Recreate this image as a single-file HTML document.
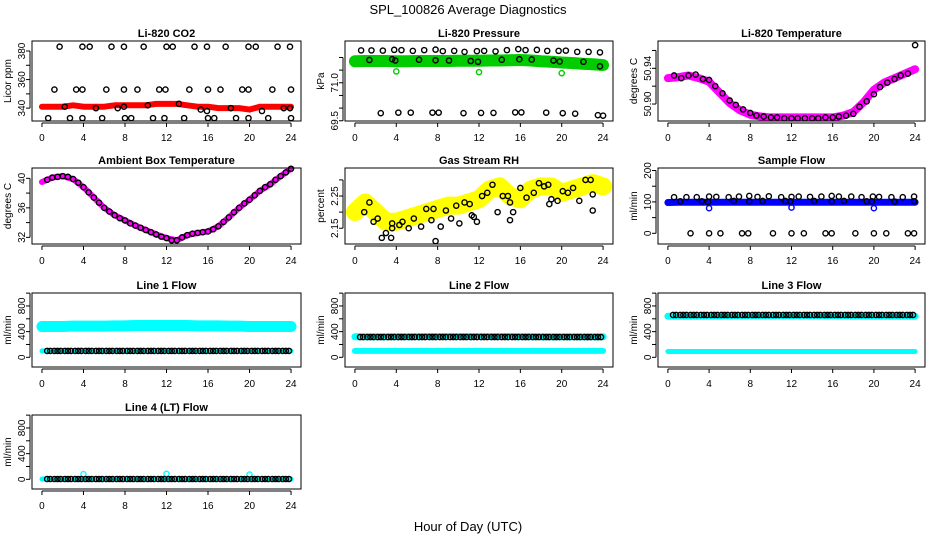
<!DOCTYPE html>
<html><head><meta charset="utf-8"><style>
html,body{margin:0;padding:0;background:#fff;}
svg{display:block;font-family:"Liberation Sans","DejaVu Sans",sans-serif;}
</style></head><body>
<svg id="chart" width="936" height="540" viewBox="0 0 936 540" xmlns="http://www.w3.org/2000/svg">
<rect width="936" height="540" fill="#fff"/>
<text x="468" y="14" text-anchor="middle" font-size="13">SPL_100826  Average Diagnostics</text>
<text x="468" y="531" text-anchor="middle" font-size="13">Hour of Day (UTC)</text>
</svg>
<script>
// ---------- data ----------
const xTicks = [0,4,8,12,16,20,24];
const bandHours = [0,1,2,3,4,5,6,7,8,9,10,11,12,13,14,15,16,17,18,19,20,21,22,23,24];
const halfHours = [0.5,1,1.5,2,2.5,3,3.5,4,4.5,5,5.5,6,6.5,7,7.5,8,8.5,9,9.5,10,10.5,11,11.5,12,12.5,13,13.5,14,14.5,15,15.5,16,16.5,17,17.5,18,18.5,19,19.5,20,20.5,21,21.5,22,22.5,23,23.5,24];
const lineHours = [0.5,0.8,1.2,1.5,1.8,2.2,2.5,2.8,3.2,3.5,3.8,4.2,4.5,4.8,5.2,5.5,5.8,6.2,6.5,6.8,7.2,7.5,7.8,8.2,8.5,8.8,9.2,9.5,9.8,10.2,10.5,10.8,11.2,11.5,11.8,12.2,12.5,12.8,13.2,13.5,13.8,14.2,14.5,14.8,15.2,15.5,15.8,16.2,16.5,16.8,17.2,17.5,17.8,18.2,18.5,18.8,19.2,19.5,19.8,20.2,20.5,20.8,21.2,21.5,21.8,22.2,22.5,22.8,23.2,23.5,23.8];

// CO2
const co2Band = [341,341,341,342,341,341,341,342,342,342,342,343,343,343,342,341,341,340,340,340,339,341,341,341,341];
const co2HighH = [1.7,3.9,4.6,6.7,7.9,9.8,12.0,12.6,14.7,15.9,17.7,19.9,20.6,22.7,23.9];
const co2HighV = [383,383,383,383,383,383,383,383,383,383,383,383,383,383,383];
const co2MidH = [1.2,3.3,3.9,6.2,7.9,9.2,11.3,11.9,14.2,16,17.2,19.3,19.9,22.2,24];
const co2MidV = [353,353,353,353,353,353,353,353,353,353,353,353,353,353,353];
const co2LowH = [2.2,5.2,7.3,7.9,10.2,13.2,15.3,15.9,18.2,21.2,23.3,23.9];
const co2LowV = [341,340,340,341,342,343,339,338,340,338,340,340];
const co2BotH = [0.6,2.7,3.9,5.8,8,8.6,10.7,11.8,13.7,16,16.6,18.7,19.9,21.8,24];
const co2BotV = [333,333,333,333,333,333,333,333,333,333,333,333,333,333,333];

// Pressure
const presBand = [71.85,71.86,71.86,71.86,71.85,71.85,71.86,71.86,71.86,71.86,71.87,71.87,71.87,71.88,71.88,71.89,71.9,71.88,71.85,71.83,71.8,71.78,71.75,71.73,71.7];
const presTopH = [0.6,1.6,2.7,3.8,4.5,5.6,6.7,7.8,8.5,9.6,10.6,11.8,12.5,13.6,14.7,15.8,16.5,17.6,18.6,19.7,20.4,21.5,22.6,23.7];
const presTopV = [72.28,72.28,72.27,72.3,72.29,72.26,72.29,72.31,72.25,72.26,72.22,72.25,72.26,72.24,72.29,72.33,72.29,72.3,72.26,72.26,72.27,72.22,72.22,72.2];
const presMidH = [1.4,3.6,3.9,6.2,7.8,9.1,11.2,11.9,14.2,15.9,17.1,19.2,19.8,22.1,23.7];
const presMidV = [71.9,71.93,71.88,71.91,71.89,71.88,71.86,71.83,71.91,71.93,71.92,71.88,71.84,71.83,71.65];
const presLowH = [2.5,4.2,5.4,7.5,8.1,10.5,12.2,13.4,15.5,16.1,18.5,20.1,21.3,23.5,24];
const presLowV = [69.8,69.82,69.82,69.82,69.82,69.8,69.81,69.81,69.83,69.83,69.82,69.8,69.78,69.72,69.7];
const presOutH = [4,12,20];
const presOutV = [71.45,71.42,71.38];

// Li-820 temperature
const ltBand = [50.929,50.930,50.932,50.929,50.925,50.913,50.901,50.893,50.888,50.886,50.885,50.885,50.885,50.885,50.885,50.885,50.885,50.887,50.891,50.902,50.916,50.924,50.929,50.934,50.939];
const ltPtH = [0.6,1.3,2,2.7,3.4,4,4.6,5.3,6,6.6,7.3,8,8.6,9.3,10,10.6,11.3,12,12.6,13.3,14,14.6,15.3,16,16.6,17.3,18,18.6,19.3,20,20.6,21.3,22,22.6,23.3,24];
const ltPtV = [50.932,50.929,50.932,50.933,50.928,50.927,50.920,50.912,50.904,50.899,50.894,50.890,50.887,50.886,50.885,50.885,50.884,50.884,50.884,50.884,50.884,50.884,50.885,50.885,50.886,50.887,50.889,50.897,50.903,50.911,50.919,50.924,50.928,50.932,50.934,50.966];

// Ambient
const ambBand = [39.5,40.1,40.3,39.9,38.8,37.4,36.0,35.0,34.3,33.6,33.0,32.4,31.9,31.6,32.3,32.6,32.8,33.5,34.7,36.0,37.1,38.3,39.2,40.3,41.3];
const ambPtV = [39.8,40.1,40.2,40.3,40.2,39.9,39.4,38.8,38.1,37.4,36.7,36.0,35.5,35.0,34.6,34.3,33.9,33.6,33.3,33.0,32.7,32.4,32.1,31.9,31.6,31.6,32.0,32.3,32.5,32.6,32.7,32.8,33.1,33.5,34.1,34.7,35.4,36.0,36.6,37.1,37.7,38.3,38.8,39.2,39.8,40.3,40.8,41.3];

// Gas stream RH
const rhBand = [2.20,2.23,2.20,2.17,2.17,2.18,2.19,2.20,2.21,2.22,2.22,2.23,2.24,2.27,2.28,2.25,2.24,2.27,2.28,2.28,2.26,2.27,2.28,2.29,2.28];
const rhPtH = [0.9,1.4,1.8,2.2,2.6,3.0,3.5,3.6,3.6,4.3,4.6,5.2,5.7,6.4,6.9,7.4,7.6,7.8,8.3,8.8,9.3,9.8,10.1,10.6,11.1,11.3,11.5,11.8,12.3,12.8,13.3,13.8,14.3,14.8,15.0,15.0,15.3,16.0,16.6,17.3,17.8,18.3,18.7,18.8,19.0,19.6,20.1,20.6,21.1,21.7,22.3,22.8,23.0,23.0];
const rhPtV = [2.20,2.23,2.17,2.18,2.12,2.135,2.12,2.15,2.165,2.16,2.17,2.15,2.18,2.155,2.21,2.175,2.21,2.11,2.155,2.205,2.18,2.22,2.165,2.23,2.225,2.19,2.185,2.17,2.25,2.26,2.285,2.20,2.25,2.25,2.23,2.175,2.20,2.275,2.245,2.26,2.29,2.28,2.285,2.225,2.24,2.235,2.265,2.26,2.275,2.235,2.30,2.30,2.255,2.205];

// Sample flow
const sfBand = [98,99,99,99,99,99,99,99,99,99,99,99,99,99,99,99,99,99,99,99,99,99,99,99,99];
const sfHighH = [0.6,1.8,2.8,4,4.7,5.9,6.9,7.9,8.7,9.8,11,12,12.7,13.8,14.9,15.9,16.6,17.8,18.8,19.9,20.5,21.7,22.8,23.9];
const sfHighV = [115,115,115,117,116,115,117,119,116,118,115,116,117,116,117,119,117,117,115,117,116,115,115,117];
const sfMidH = [1.2,3.3,3.9,6.4,7.9,9.2,11.4,11.9,14.2,15.9,17.1,19.3,19.8,22,23.9];
const sfMidV = [102,102,100,103,102,103,103,102,103,102,103,102,102,101,102];
const sfZeroH = [2.2,4,5.1,7.2,7.8,10.2,12,13.2,15.3,15.9,18.2,20,21.2,23.3,23.9];
const sfZeroV = [0,0,0,0,0,0,0,0,0,0,0,0,0,0,0];
const sfOutH = [4,12,20];
const sfOutV = [80,82,80];

// Line flows (mL/min)
const l1Band = [480,480,480,485,485,485,485,490,490,495,495,495,495,495,495,490,490,490,485,485,480,480,480,480,480];
const l1Base = [100,100,100,100,100,100,100,100,100,100,100,100,100,100,100,100,100,100,100,100,100,100,100,100,100];
const l1BlackLevel = [100];
const l2Band = [320,320,320,320,322,322,322,325,325,325,325,325,325,325,325,325,322,322,320,320,320,320,320,320,320];
const l2Base = [100,100,100,100,100,100,100,100,100,100,100,100,100,100,100,100,100,100,100,100,100,100,100,100,100];
const l2BlackLevel = [315];
const l3Band = [640,640,640,640,642,642,645,645,645,645,645,648,648,648,645,645,645,645,642,642,640,640,640,640,640];
const l3Base = [90,90,90,90,90,90,90,90,90,90,90,90,90,90,90,90,90,90,90,90,90,90,90,90,90];
const l3BlackLevel = [660];
const l4Base = [5,5,5,5,5,5,5,5,5,5,5,5,5,5,5,5,5,5,5,5,5,5,5,5,5];
const l4BlackLevel = [5];
const l4OutH = [4,12,20];
const l4OutV = [80,85,75];

// ---------- helpers ----------
const NS = "http://www.w3.org/2000/svg";
const svg = document.getElementById('chart');
function mk(tag, attrs, parent){ const e=document.createElementNS(NS,tag); for(const k in attrs) e.setAttribute(k,attrs[k]); (parent||svg).appendChild(e); return e; }

const COLS = [[32,301],[345,613],[658,925]];
const ROWS = [[41,121],[168,244],[293,367],[415,489]];

function makePanel(col,row,title,ylab,ylim,ticks,labels,key){
  const [x0,x1]=COLS[col], [y0,y1]=ROWS[row];
  const g = mk('g',{});
  
  
  const xs = h => x0 + (h - (-0.96))/(25.92)*(x1-x0);
  const ys = v => y1 - (v - ylim[0])/(ylim[1]-ylim[0])*(y1-y0);
  const t = mk('text',{x:(x0+x1)/2,y:y0-4,'text-anchor':'middle','font-size':11,'font-weight':'bold'},g);
  t.textContent = title;
  
  
  const plot = mk('g',{},g);
  
  
  const box = mk('rect',{x:x0,y:y0,width:x1-x0,height:y1-y0,fill:'none',stroke:'#000','stroke-width':1},g);
  
  
  const xa = mk('g',{},g);
  
  
  mk('line',{x1:xs(xTicks[0]),x2:xs(xTicks[xTicks.length-1]),y1:y1+2,y2:y1+2,stroke:'#000'},xa);
  xTicks.forEach(v=>{
    mk('line',{x1:xs(v),x2:xs(v),y1:y1+2,y2:y1+6,stroke:'#000'},xa);
    const tl = mk('text',{x:xs(v),y:y1+20,'text-anchor':'middle','font-size':10},xa);
    tl.textContent = v;
    
    
  });
  const ya = mk('g',{},g);
  
  
  mk('line',{x1:x0-2,x2:x0-2,y1:ys(ticks[0]),y2:ys(ticks[ticks.length-1]),stroke:'#000'},ya);
  ticks.forEach(v=> mk('line',{x1:x0-2,x2:x0-6,y1:ys(v),y2:ys(v),stroke:'#000'},ya));
  labels.forEach(v=>{
    const yy=ys(Number(v)), xx=x0-7;
    const tl = mk('text',{x:xx,y:yy,'text-anchor':'middle','font-size':10,transform:`rotate(-90 ${xx} ${yy})`},ya);
    tl.textContent = v;
    
    
  });
  const yl = mk('text',{x:x0-21,y:(y0+y1)/2,'text-anchor':'middle','font-size':10,transform:`rotate(-90 ${x0-21} ${(y0+y1)/2})`},g);
  yl.textContent = ylab;
  
  
  return {xs,ys,plot,
    band(hours,vals,color,w,name){
      const p = mk('polyline',{points:hours.map((h,i)=>xs(h)+','+ys(vals[i])).join(' '),fill:'none',stroke:color,'stroke-width':w,'stroke-linejoin':'round','stroke-linecap':'round'},plot);
      
      
    },
    pts(hours,vals,color,name){
      hours.forEach((h,i)=>{
        const c = mk('circle',{cx:xs(h),cy:ys(vals[i%vals.length]),r:2.6,fill:'none',stroke:color,'stroke-width':1.4},plot);
        
        
      });
    }};
}

let P = makePanel(0,0,'Li-820 CO2','Licor ppm',[331,387],[340,350,360,370,380],['340','360','380'],'co2');
P.band(bandHours,co2Band,'#ff0000',6,'co2-band');
P.pts(co2HighH,co2HighV,'#000','co2-point'); P.pts(co2MidH,co2MidV,'#000','co2-point');
P.pts(co2LowH,co2LowV,'#000','co2-point'); P.pts(co2BotH,co2BotV,'#000','co2-point');

P = makePanel(1,0,'Li-820 Pressure','kPa',[69.49,72.65],[69.5,70,70.5,71,71.5,72],['69.5','71.0'],'pressure');
P.band(bandHours,presBand,'#00cc00',12,'pressure-band');
P.pts(presOutH,presOutV,'#00cc00','pressure-outlier');
P.pts(presTopH,presTopV,'#000','pressure-point'); P.pts(presMidH,presMidV,'#000','pressure-point');
P.pts(presLowH,presLowV,'#000','pressure-point');

P = makePanel(2,0,'Li-820 Temperature','degrees C',[50.881,50.9706],[50.90,50.92,50.94,50.96],['50.90','50.94'],'li-temp');
P.band(bandHours,ltBand,'#ff00ff',8,'li-temp-band');
P.pts(ltPtH,ltPtV,'#000','li-temp-point');

P = makePanel(0,1,'Ambient Box Temperature','degrees C',[31.1,41.4],[32,34,36,38,40],['32','36','40'],'ambient');
P.band(bandHours,ambBand,'#ff00ff',6,'ambient-band');
P.pts(halfHours,ambPtV,'#000','ambient-point');

P = makePanel(1,1,'Gas Stream RH','percent',[2.101,2.337],[2.15,2.20,2.25,2.30],['2.15','2.25'],'rh');
P.band(bandHours,rhBand,'#ffff00',18,'rh-band');
P.pts(rhPtH,rhPtV,'#000','rh-point');

P = makePanel(2,1,'Sample Flow','ml/min',[-34,208],[0,50,100,150,200],['0','100','200'],'sample-flow');
P.band(bandHours,sfBand,'#0000ff',7,'sample-flow-band');
P.pts(sfOutH,sfOutV,'#0000ff','sample-flow-outlier');
P.pts(sfHighH,sfHighV,'#000','sample-flow-point'); P.pts(sfMidH,sfMidV,'#000','sample-flow-point');
P.pts(sfZeroH,sfZeroV,'#000','sample-flow-point');

const flowTicks=[0,200,400,600,800,1000], flowLabels=['0','400','800'];
P = makePanel(0,2,'Line 1 Flow','ml/min',[-151,1002],flowTicks,flowLabels,'line1');
P.band(bandHours,l1Band,'#00ffff',11,'line1-band');
P.band(bandHours,l1Base,'#00ffff',5,'line1-base');
P.pts(lineHours,l1BlackLevel,'#000','line1-point');

P = makePanel(1,2,'Line 2 Flow','ml/min',[-151,1002],flowTicks,flowLabels,'line2');
P.band(bandHours,l2Band,'#00ffff',7,'line2-band');
P.band(bandHours,l2Base,'#00ffff',6,'line2-base');
P.pts(lineHours,l2BlackLevel,'#000','line2-point');

P = makePanel(2,2,'Line 3 Flow','ml/min',[-151,1002],flowTicks,flowLabels,'line3');
P.band(bandHours,l3Band,'#00ffff',7,'line3-band');
P.band(bandHours,l3Base,'#00ffff',5,'line3-base');
P.pts(lineHours,l3BlackLevel,'#000','line3-point');

P = makePanel(0,3,'Line 4 (LT) Flow','ml/min',[-151,1002],flowTicks,flowLabels,'line4');
P.band(bandHours,l4Base,'#00ffff',5,'line4-base');
P.pts(l4OutH,l4OutV,'#00ffff','line4-outlier');
P.pts(lineHours,l4BlackLevel,'#000','line4-point');
</script>
</body></html>
